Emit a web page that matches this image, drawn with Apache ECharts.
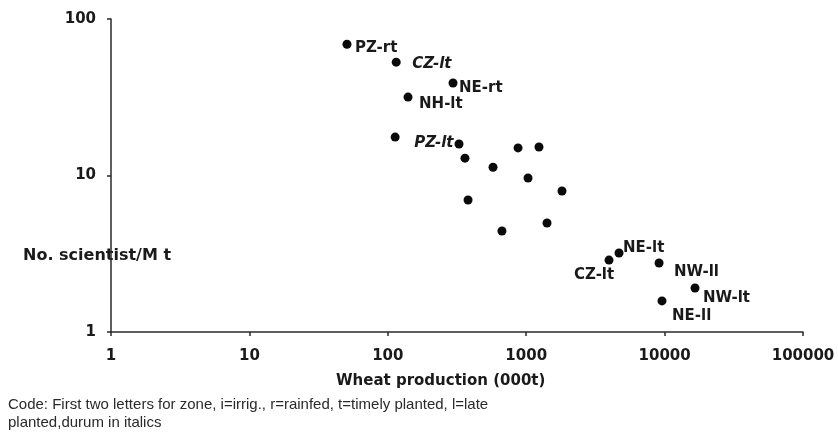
<!DOCTYPE html>
<html>
<head>
<meta charset="utf-8">
<script src="https://cdn.jsdelivr.net/npm/echarts@6/dist/echarts.min.js"></script>
<style>
html,body{margin:0;padding:0;background:#fff;}
#chart{width:838px;height:445px;}
</style>
</head>
<body>
<div id="chart"></div>
<script>
// Wheat production (000 t) per zone
const production = [50.7, 115, 296, 140, 113, 327, 361, 576, 873, 1237, 1031, 1814, 380, 668, 1414, 3966, 4686, 9120, 16590, 9576];
// No. scientists per million tonnes
const scientists = [69, 53, 39, 31.7, 17.6, 15.9, 12.9, 11.3, 15.0, 15.2, 9.64, 7.96, 6.97, 4.42, 4.97, 2.88, 3.2, 2.76, 1.91, 1.58];
// Point codes ('' = unlabelled)
const codes = ['PZ-rt', 'CZ-lt', 'NE-rt', 'NH-lt', 'PZ-lt', '', '', '', '', '', '', '', '', '', '', 'CZ-lt', 'NE-lt', 'NW-ll', 'NW-lt', 'NE-ll'];
// Durum zones (shown in italics)
const durum = [false, true, false, false, true, false, false, false, false, false, false, false, false, false, false, false, false, false, false, false];
const xTickLabels = ['1', '10', '100', '1000', '10000', '100000'];
const yTickLabels = ['1', '10', '100'];
const xTitle = 'Wheat production (000t)';
const yTitle = 'No. scientist/M t';
const footnote = ['Code: First two letters for zone, i=irrig., r=rainfed, t=timely planted, l=late', 'planted,durum in italics'];

// label placement (pixel offsets of label left / vertical centre from the point)
const labelOffsets = {
  0: [8, 4], 1: [16, 2], 2: [6, 5], 3: [11, 7], 4: [19, 6],
  15: [-35, 15], 16: [4, -5], 17: [15, 9], 18: [8, 10], 19: [10, 15]
};

const SYM = 9;
const FONT = 'DejaVu Sans';
const data = production.map((x, i) => {
  const item = { value: [x, scientists[i]] };
  if (codes[i]) {
    const off = labelOffsets[i] || [8, 0];
    item.label = {
      show: true,
      formatter: codes[i],
      position: [off[0] + SYM / 2, off[1] + SYM / 2],
      align: 'left',
      verticalAlign: 'middle',
      fontStyle: durum[i] ? 'italic' : 'normal'
    };
  }
  return item;
});

const chart = echarts.init(document.getElementById('chart'), null, { renderer: 'canvas' });
chart.setOption({
  animation: false,
  backgroundColor: '#fff',
  grid: { left: 111, right: 35, top: 19, bottom: 113, containLabel: false },
  xAxis: {
    type: 'log', logBase: 10, min: 1, max: 100000,
    axisLine: { show: true, lineStyle: { color: '#2a2a2a', width: 1.5 } },
    axisTick: { show: true, length: 4, lineStyle: { color: '#2a2a2a', width: 1.5 } },
    minorTick: { show: false },
    splitLine: { show: false },
    axisLabel: {
      margin: 17, color: '#1a1a1a', fontFamily: FONT, fontWeight: 'bold', fontSize: 15,
      formatter: (v) => { const k = Math.round(Math.log10(v)); return xTickLabels[k] !== undefined ? xTickLabels[k] : ''; }
    }
  },
  yAxis: {
    type: 'log', logBase: 10, min: 1, max: 100,
    axisLine: { show: true, lineStyle: { color: '#2a2a2a', width: 1.5 } },
    axisTick: { show: true, length: 4, lineStyle: { color: '#2a2a2a', width: 1.5 } },
    minorTick: { show: false },
    splitLine: { show: false },
    axisLabel: {
      margin: 15, color: '#1a1a1a', fontFamily: FONT, fontWeight: 'bold', fontSize: 15,
      formatter: (v) => { const k = Math.round(Math.log10(v)); return yTickLabels[k] !== undefined ? yTickLabels[k] : ''; }
    }
  },
  series: [{
    type: 'scatter',
    symbol: 'circle',
    symbolSize: SYM,
    itemStyle: { color: '#0a0a0a', opacity: 1 },
    label: { color: '#1a1a1a', fontFamily: FONT, fontWeight: 'bold', fontSize: 15, opacity: 1 },
    emphasis: { disabled: true },
    data: data
  }],
  graphic: [
    { type: 'text', left: 23, top: 248, style: { text: yTitle, fill: '#1a1a1a', font: 'bold 16px "DejaVu Sans"' } },
    { type: 'text', left: 336, top: 374, style: { text: xTitle, fill: '#1a1a1a', font: 'bold 15px "DejaVu Sans"' } },
    { type: 'text', left: 8, top: 397, style: { text: footnote[0], fill: '#2a2a2a', font: '15px "Liberation Sans"' } },
    { type: 'text', left: 8, top: 415, style: { text: footnote[1], fill: '#2a2a2a', font: '15px "Liberation Sans"' } }
  ]
});
</script>
</body>
</html>
